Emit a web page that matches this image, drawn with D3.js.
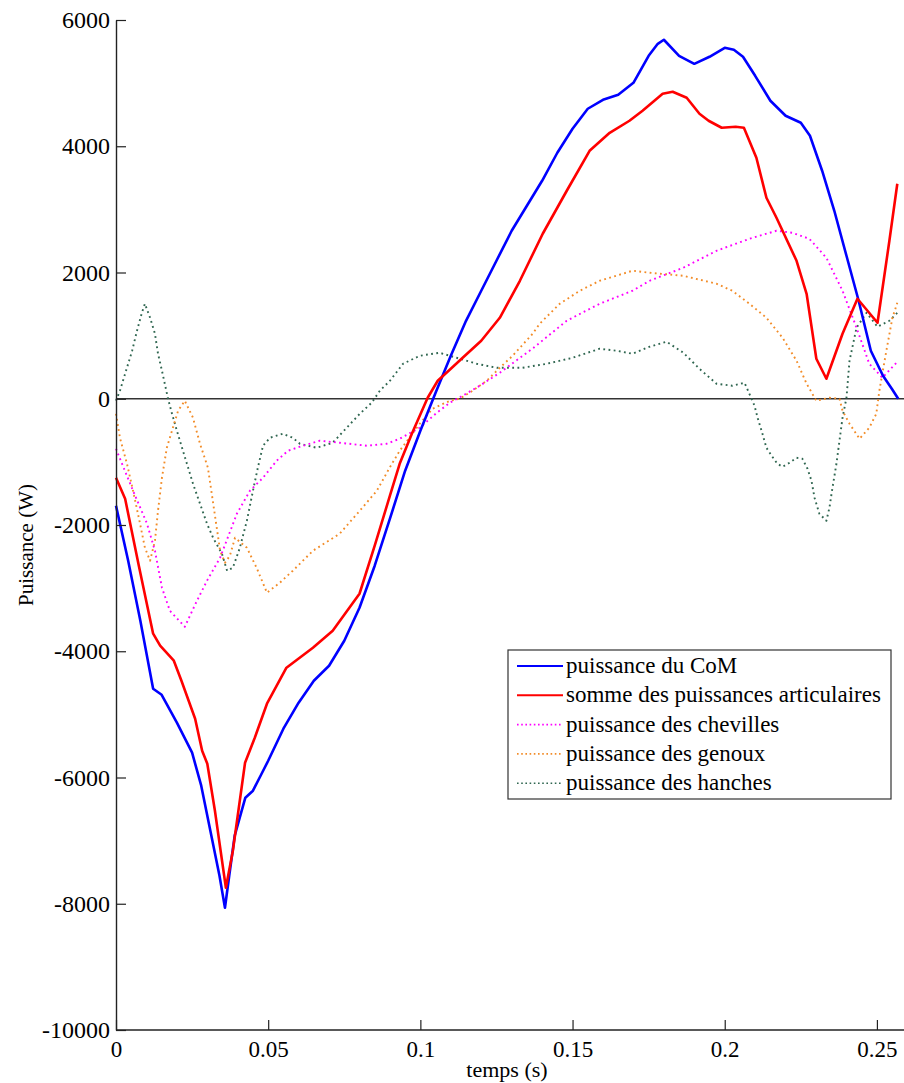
<!DOCTYPE html>
<html><head><meta charset="utf-8">
<script src="https://cdn.jsdelivr.net/npm/d3@7"></script>
<style>
html,body{margin:0;padding:0;background:#fff;}
text{font-family:"Liberation Serif","Times New Roman",serif;fill:#000;}
</style></head>
<body><svg id="c" width="904" height="1083"></svg>
<script>
// ---- data (time in s, power in W) ----
const xTicks = [0, 0.05, 0.1, 0.15, 0.2, 0.25];
const xTickLabels = ["0", "0.05", "0.1", "0.15", "0.2", "0.25"];
const yTicks = [6000, 4000, 2000, 0, -2000, -4000, -6000, -8000, -10000];
const yTickLabels = ["6000", "4000", "2000", "0", "-2000", "-4000", "-6000", "-8000", "-10000"];
const seriesNames = ["puissance du CoM", "somme des puissances articulaires", "puissance des chevilles", "puissance des genoux", "puissance des hanches"];

const comT = [0,0.004,0.008,0.0122,0.015,0.02,0.025,0.028,0.031,0.034,0.0358,0.0372,0.039,0.0425,0.045,0.0475,0.05,0.055,0.06,0.065,0.07,0.075,0.08,0.085,0.09,0.095,0.1,0.105,0.11,0.115,0.12,0.125,0.13,0.135,0.14,0.145,0.15,0.155,0.16,0.165,0.17,0.175,0.178,0.18,0.185,0.19,0.195,0.2,0.203,0.206,0.21,0.215,0.22,0.225,0.228,0.232,0.236,0.24,0.244,0.248,0.252,0.255,0.257];
const comV = [-1695,-2566,-3517,-4594,-4690,-5132,-5607,-6130,-6843,-7556,-8063,-7556,-6922,-6320,-6209,-5972,-5735,-5227,-4815,-4467,-4229,-3833,-3311,-2645,-1900,-1140,-507,95,681,1235,1711,2186,2661,3057,3453,3897,4277,4594,4736,4815,5005,5433,5623,5687,5433,5306,5417,5560,5528,5417,5116,4720,4483,4372,4166,3612,2978,2265,1552,760,364,150,0];

const sumT = [0,0.003,0.0075,0.0122,0.0145,0.019,0.0215,0.026,0.0283,0.03,0.0325,0.0361,0.0384,0.0424,0.0456,0.0496,0.056,0.0647,0.0712,0.08,0.085,0.09,0.0932,0.0972,0.1024,0.1057,0.11,0.1139,0.12,0.1261,0.1327,0.1402,0.1481,0.1556,0.1622,0.1687,0.173,0.1796,0.1829,0.1875,0.1917,0.1947,0.199,0.2036,0.2063,0.2104,0.2137,0.217,0.2236,0.2269,0.2301,0.2334,0.2387,0.2436,0.2502,0.2541,0.2567];
const sumV = [-1251,-1584,-2645,-3722,-3912,-4150,-4467,-5069,-5576,-5782,-6526,-7746,-7160,-5766,-5370,-4831,-4261,-3944,-3675,-3089,-2328,-1536,-1030,-554,16,285,475,650,919,1283,1869,2614,3295,3928,4213,4404,4562,4831,4863,4768,4514,4404,4293,4309,4293,3817,3184,2867,2186,1663,634,317,1030,1584,1204,2503,3406];

const chevT = [0,0.0013,0.0056,0.0102,0.0128,0.0151,0.0177,0.0226,0.0266,0.0299,0.0342,0.0397,0.044,0.0483,0.0528,0.0565,0.0604,0.0669,0.0735,0.0824,0.0889,0.0932,0.0998,0.1054,0.1097,0.1139,0.1195,0.1261,0.1372,0.1481,0.1589,0.1697,0.1753,0.1864,0.1973,0.2081,0.217,0.2222,0.2278,0.2334,0.2387,0.2433,0.2475,0.2518,0.2564];
const chevV = [-792,-950,-1457,-1980,-2408,-2994,-3358,-3612,-3200,-2883,-2519,-1822,-1457,-1251,-982,-824,-760,-665,-697,-744,-713,-634,-459,-222,-63,48,206,412,808,1236,1505,1711,1869,2075,2344,2534,2661,2630,2534,2233,1711,1125,554,333,570];

const genT = [0,0.0013,0.0036,0.0056,0.0079,0.0095,0.0112,0.0128,0.0138,0.0151,0.0167,0.0184,0.0204,0.0226,0.0253,0.0276,0.0302,0.0318,0.0331,0.0342,0.0358,0.0374,0.0391,0.043,0.0463,0.0496,0.0538,0.0581,0.0647,0.0735,0.0801,0.0857,0.0899,0.0932,0.0998,0.104,0.1097,0.1129,0.1172,0.1218,0.1261,0.1303,0.1369,0.1392,0.1458,0.1524,0.1589,0.1697,0.1753,0.1864,0.1973,0.2025,0.2081,0.2137,0.219,0.2236,0.2269,0.2301,0.2344,0.2377,0.2387,0.241,0.2443,0.2475,0.2498,0.2508,0.2531,0.2551,0.2567];
const genV = [-238,-618,-1030,-1457,-1980,-2360,-2566,-2249,-1774,-1251,-776,-507,-190,-32,-301,-713,-1093,-1616,-2043,-2408,-2598,-2487,-2202,-2360,-2690,-3073,-2915,-2724,-2408,-2138,-1774,-1457,-1093,-824,-396,-158,-32,0,127,285,491,681,1030,1188,1505,1711,1869,2028,1996,1948,1822,1711,1505,1283,966,602,238,-32,16,0,-190,-396,-634,-459,-238,127,760,1283,1520];

const hanT = [0,0.0013,0.003,0.0053,0.0069,0.0085,0.0095,0.0112,0.0128,0.0138,0.0151,0.0171,0.0184,0.02,0.0217,0.0233,0.0253,0.0276,0.0299,0.0319,0.0348,0.0365,0.0384,0.0407,0.043,0.045,0.0466,0.0483,0.0506,0.0548,0.0581,0.0604,0.0659,0.0712,0.0758,0.0801,0.084,0.0867,0.09,0.0943,0.0998,0.1063,0.1119,0.1185,0.1251,0.1336,0.1415,0.15,0.1589,0.1645,0.1697,0.1753,0.1809,0.1864,0.1917,0.1973,0.2025,0.2065,0.2081,0.2098,0.2108,0.2124,0.2137,0.2154,0.2173,0.219,0.2213,0.2236,0.2255,0.2272,0.2285,0.2295,0.2311,0.2334,0.2344,0.2354,0.2367,0.2377,0.2387,0.24,0.241,0.2433,0.2466,0.2502,0.2541,0.2567];
const hanV = [-30,127,396,760,1077,1362,1505,1283,1030,713,444,0,-238,-507,-776,-1030,-1346,-1663,-1980,-2202,-2455,-2724,-2677,-2360,-1932,-1457,-1093,-744,-618,-554,-618,-713,-776,-697,-459,-238,-63,127,285,554,681,729,649,554,491,491,554,649,792,760,713,824,903,729,475,238,206,253,79,-111,-301,-554,-776,-903,-1030,-1077,-1014,-935,-950,-1109,-1299,-1568,-1822,-1932,-1727,-1410,-1030,-665,-301,16,602,1125,1362,1140,1236,1362];

const seriesColors = ["#0000ff", "#ff0000", "#ff00ff", "#f28c28", "#2f6650"];

// ---- drawing ----
const svg = d3.select("#c");
const L = 116, R = 904, T = 20, B = 1030;
const x = d3.scaleLinear().domain([0, 0.2589]).range([L, R]);
const y = d3.scaleLinear().domain([-10000, 6000]).range([B, T]);

const series = [
  {t: comT, v: comV, dash: null, w: 2.6},
  {t: sumT, v: sumV, dash: null, w: 2.6},
  {t: chevT, v: chevV, dash: "1.8,3.4", w: 1.9},
  {t: genT, v: genV, dash: "1.8,3.4", w: 1.9},
  {t: hanT, v: hanV, dash: "1.8,3.4", w: 1.9}
];

// zero line
svg.append("line").attr("x1", x(0)).attr("x2", R).attr("y1", y(0)).attr("y2", y(0))
  .attr("stroke", "#333").attr("stroke-width", 1.4);

const line = d3.line().x(d => x(d[0])).y(d => y(d[1]));
[4, 3, 2, 0, 1].forEach(i => {
  const s = series[i];
  const pts = s.t.map((t, k) => [t, s.v[k]]);
  const p = svg.append("path").datum(pts).attr("d", line)
    .attr("fill", "none").attr("stroke", seriesColors[i]).attr("stroke-width", s.w)
    .attr("stroke-linejoin", "round");
  if (s.dash) p.attr("stroke-dasharray", s.dash);
});

// axes
const xAxis = d3.axisBottom(x).tickValues(xTicks).tickFormat((d, i) => xTickLabels[i]).tickSizeInner(-10).tickSizeOuter(0).tickPadding(8);
const gx = svg.append("g").attr("transform", `translate(0,${B})`).call(xAxis);
gx.select(".domain").attr("stroke", "#222").attr("stroke-width", 1.4).attr("d", `M${L},0H${R}`);
gx.selectAll(".tick line").attr("stroke", "#222").attr("stroke-width", 1.2);
gx.selectAll(".tick text").attr("font-size", 23).attr("font-family", "Liberation Serif").attr("dy", "0.95em").attr("y", 5);

const yAxis = d3.axisLeft(y).tickValues(yTicks).tickFormat((d, i) => yTickLabels[i]).tickSizeInner(-10).tickSizeOuter(0).tickPadding(7);
const gy = svg.append("g").attr("transform", `translate(${L},0)`).call(yAxis);
gy.select(".domain").attr("stroke", "#222").attr("stroke-width", 1.4);
gy.selectAll(".tick line").attr("stroke", "#222").attr("stroke-width", 1.2);
gy.selectAll(".tick text").attr("font-size", 24).attr("font-family", "Liberation Serif").attr("x", -6);

// axis labels
svg.append("text").attr("x", (L + R) / 2 - 3).attr("y", 1077).attr("text-anchor", "middle")
  .attr("font-size", 22).text("temps (s)");
svg.append("text").attr("transform", `translate(33,${(T + B) / 2 + 20}) rotate(-90)`)
  .attr("text-anchor", "middle").attr("font-size", 21).text("Puissance (W)");

// legend
const lg = svg.append("g");
lg.append("rect").attr("x", 508).attr("y", 650).attr("width", 383).attr("height", 149)
  .attr("fill", "#fff").attr("stroke", "#333").attr("stroke-width", 1.2);
seriesNames.forEach((name, i) => {
  const yy = 666 + i * 29.3;
  const s = series[i];
  const l = lg.append("line").attr("x1", 517).attr("x2", 563).attr("y1", yy).attr("y2", yy)
    .attr("stroke", seriesColors[i]).attr("stroke-width", s.dash ? 1.6 : 2);
  if (s.dash) l.attr("stroke-dasharray", "1.6,2.6");
  lg.append("text").attr("x", 566).attr("y", yy + 7).attr("font-size", 23).text(name);
});
</script></body></html>
